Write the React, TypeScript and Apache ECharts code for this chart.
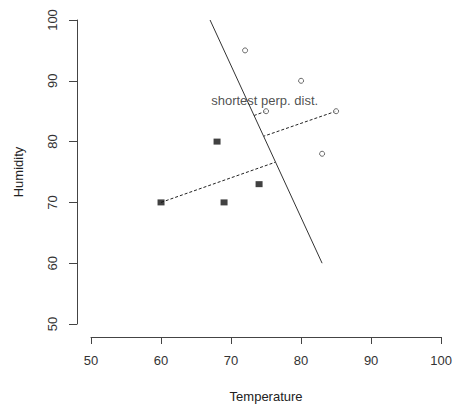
import React, { useEffect, useRef } from "react";
import * as echarts from "echarts";

const xTicks = [50, 60, 70, 80, 90, 100];
const yTicks = [50, 60, 70, 80, 90, 100];

const lowTemp = [60, 68, 69, 74];
const lowHum = [70, 80, 70, 73];

const highTemp = [72, 80, 75, 85, 83];
const highHum = [95, 90, 85, 85, 78];

const sepTemp = [67, 83];
const sepHum = [100, 60];

const perp1Temp = [60, 76.3];
const perp1Hum = [70, 76.6];
const perp2Temp = [85, 74.7];
const perp2Hum = [85, 80.9];
const perp3Temp = [75, 73.3];
const perp3Hum = [85, 84.3];

const noteText = "shortest perp. dist.";
const notePos = [74.8, 86.7];

const zip = (xs: number[], ys: number[]) => xs.map((x, i) => [x, ys[i]]);

const FONT = "'Liberation Sans', Arial, sans-serif";

export default function App() {
  const ref = useRef<HTMLDivElement>(null);
  useEffect(() => {
    if (!ref.current) return;
    const chart = echarts.init(ref.current, undefined, { renderer: "svg" });
    const dashStyle = { color: "#222", width: 1, type: [3, 2] as any };
    chart.setOption({
      animation: false,
      backgroundColor: "#fff",
      grid: { left: 91, right: 11, top: 20, bottom: 82 },
      xAxis: {
        type: "value",
        min: xTicks[0],
        max: xTicks[xTicks.length - 1],
        interval: 10,
        offset: 13,
        name: "Temperature",
        nameLocation: "middle",
        nameGap: 53,
        nameTextStyle: { color: "#222", fontSize: 13, fontFamily: FONT },
        splitLine: { show: false },
        axisLine: { show: true, lineStyle: { color: "#444", width: 1 } },
        axisTick: { show: true, length: 7, lineStyle: { color: "#444" } },
        axisLabel: { color: "#333", fontSize: 13, fontFamily: FONT, margin: 17 },
      },
      yAxis: {
        type: "value",
        min: yTicks[0],
        max: yTicks[yTicks.length - 1],
        interval: 10,
        offset: 14,
        name: "Humidity",
        nameLocation: "middle",
        nameGap: 52,
        nameTextStyle: { color: "#222", fontSize: 13, fontFamily: FONT },
        splitLine: { show: false },
        axisLine: { show: true, lineStyle: { color: "#444", width: 1 } },
        axisTick: { show: true, length: 8, lineStyle: { color: "#444" } },
        axisLabel: { color: "#333", fontSize: 13, fontFamily: FONT, margin: 18, rotate: 90 },
      },
      series: [
        {
          type: "line",
          data: zip(sepTemp, sepHum),
          symbol: "none",
          lineStyle: { color: "#333", width: 1 },
        },
        { type: "line", data: zip(perp1Temp, perp1Hum), symbol: "none", lineStyle: dashStyle },
        { type: "line", data: zip(perp2Temp, perp2Hum), symbol: "none", lineStyle: dashStyle },
        { type: "line", data: zip(perp3Temp, perp3Hum), symbol: "none", lineStyle: dashStyle },
        {
          type: "scatter",
          data: zip(lowTemp, lowHum),
          symbol: "rect",
          symbolSize: [7, 6],
          itemStyle: { color: "#111" },
          z: 5,
        },
        {
          type: "scatter",
          data: zip(highTemp, highHum),
          symbol: "circle",
          symbolSize: 5,
          itemStyle: { color: "#fff", borderColor: "#444", borderWidth: 1 },
          z: 5,
        },
        {
          type: "scatter",
          data: [notePos],
          symbolSize: 0,
          silent: true,
          label: {
            show: true,
            position: "inside",
            formatter: noteText,
            color: "#222",
            fontSize: 13,
            fontFamily: FONT,
          },
          z: 6,
        },
      ],
    });
    return () => chart.dispose();
  }, []);
  return <div ref={ref} style={{ width: 455, height: 408, position: "absolute", left: 0, top: 0 }} />;
}
